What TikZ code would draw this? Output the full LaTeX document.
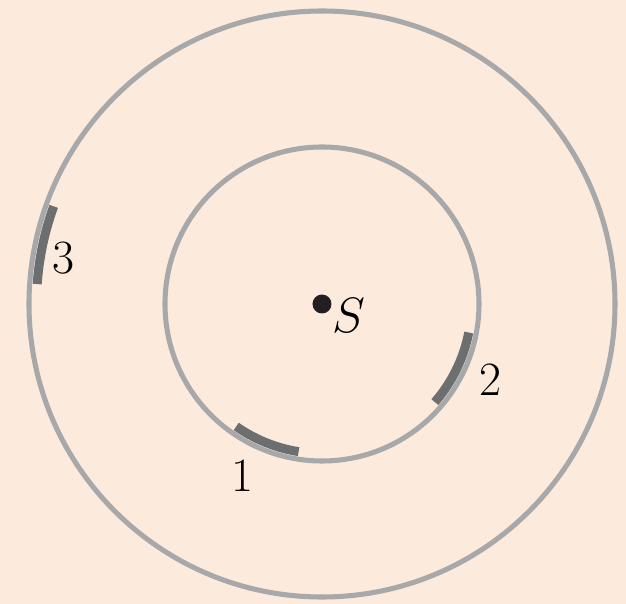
\documentclass[tikz,border=0pt]{standalone}
\usepackage{tikz}
\usetikzlibrary{calc}
\definecolor{bgpeach}{HTML}{FCEBDD}
\definecolor{ringgrey}{HTML}{A7A8AA}
\definecolor{arcdark}{HTML}{6D6E70}
\definecolor{dotblack}{HTML}{231F20}
\tikzset{
  ring/.style={ringgrey,line width=3.6pt},
  mark arc/.style={arcdark,line width=6.4pt},
  numlabel/.style={font=\fontsize{34}{40}\selectfont,inner sep=0pt}
}

\begin{document}
\begin{tikzpicture}[x=0.025cm,y=0.025cm]
  \fill[bgpeach] (-322,-300) rectangle (304,304);
  \useasboundingbox (-322,-300) rectangle (304,304);
  % two rings around the source
  \draw[ring] (0,0) circle[radius=157];
  \draw[ring] (0,0) circle[radius=293];
  % marked pieces of the rings
  \draw[mark arc] (235:149.5) arc[start angle=235,end angle=261,radius=149.5];
  \draw[mark arc] (-41:149.5) arc[start angle=-41,end angle=-11,radius=149.5];
  \draw[mark arc] (160:285.5) arc[start angle=160,end angle=176,radius=285.5];
  % source
  \fill[dotblack] (0,0) circle[radius=9.5];
  \node[numlabel,scale=1.42] (srcS) at (27,-12) {$S$};
  \node[numlabel] (lab1) at (-80,-172) {1};
  \node[numlabel] (lab2) at (168,-76) {2};
  \node[numlabel] (lab3) at (-259,46) {3};
\end{tikzpicture}
\end{document}
